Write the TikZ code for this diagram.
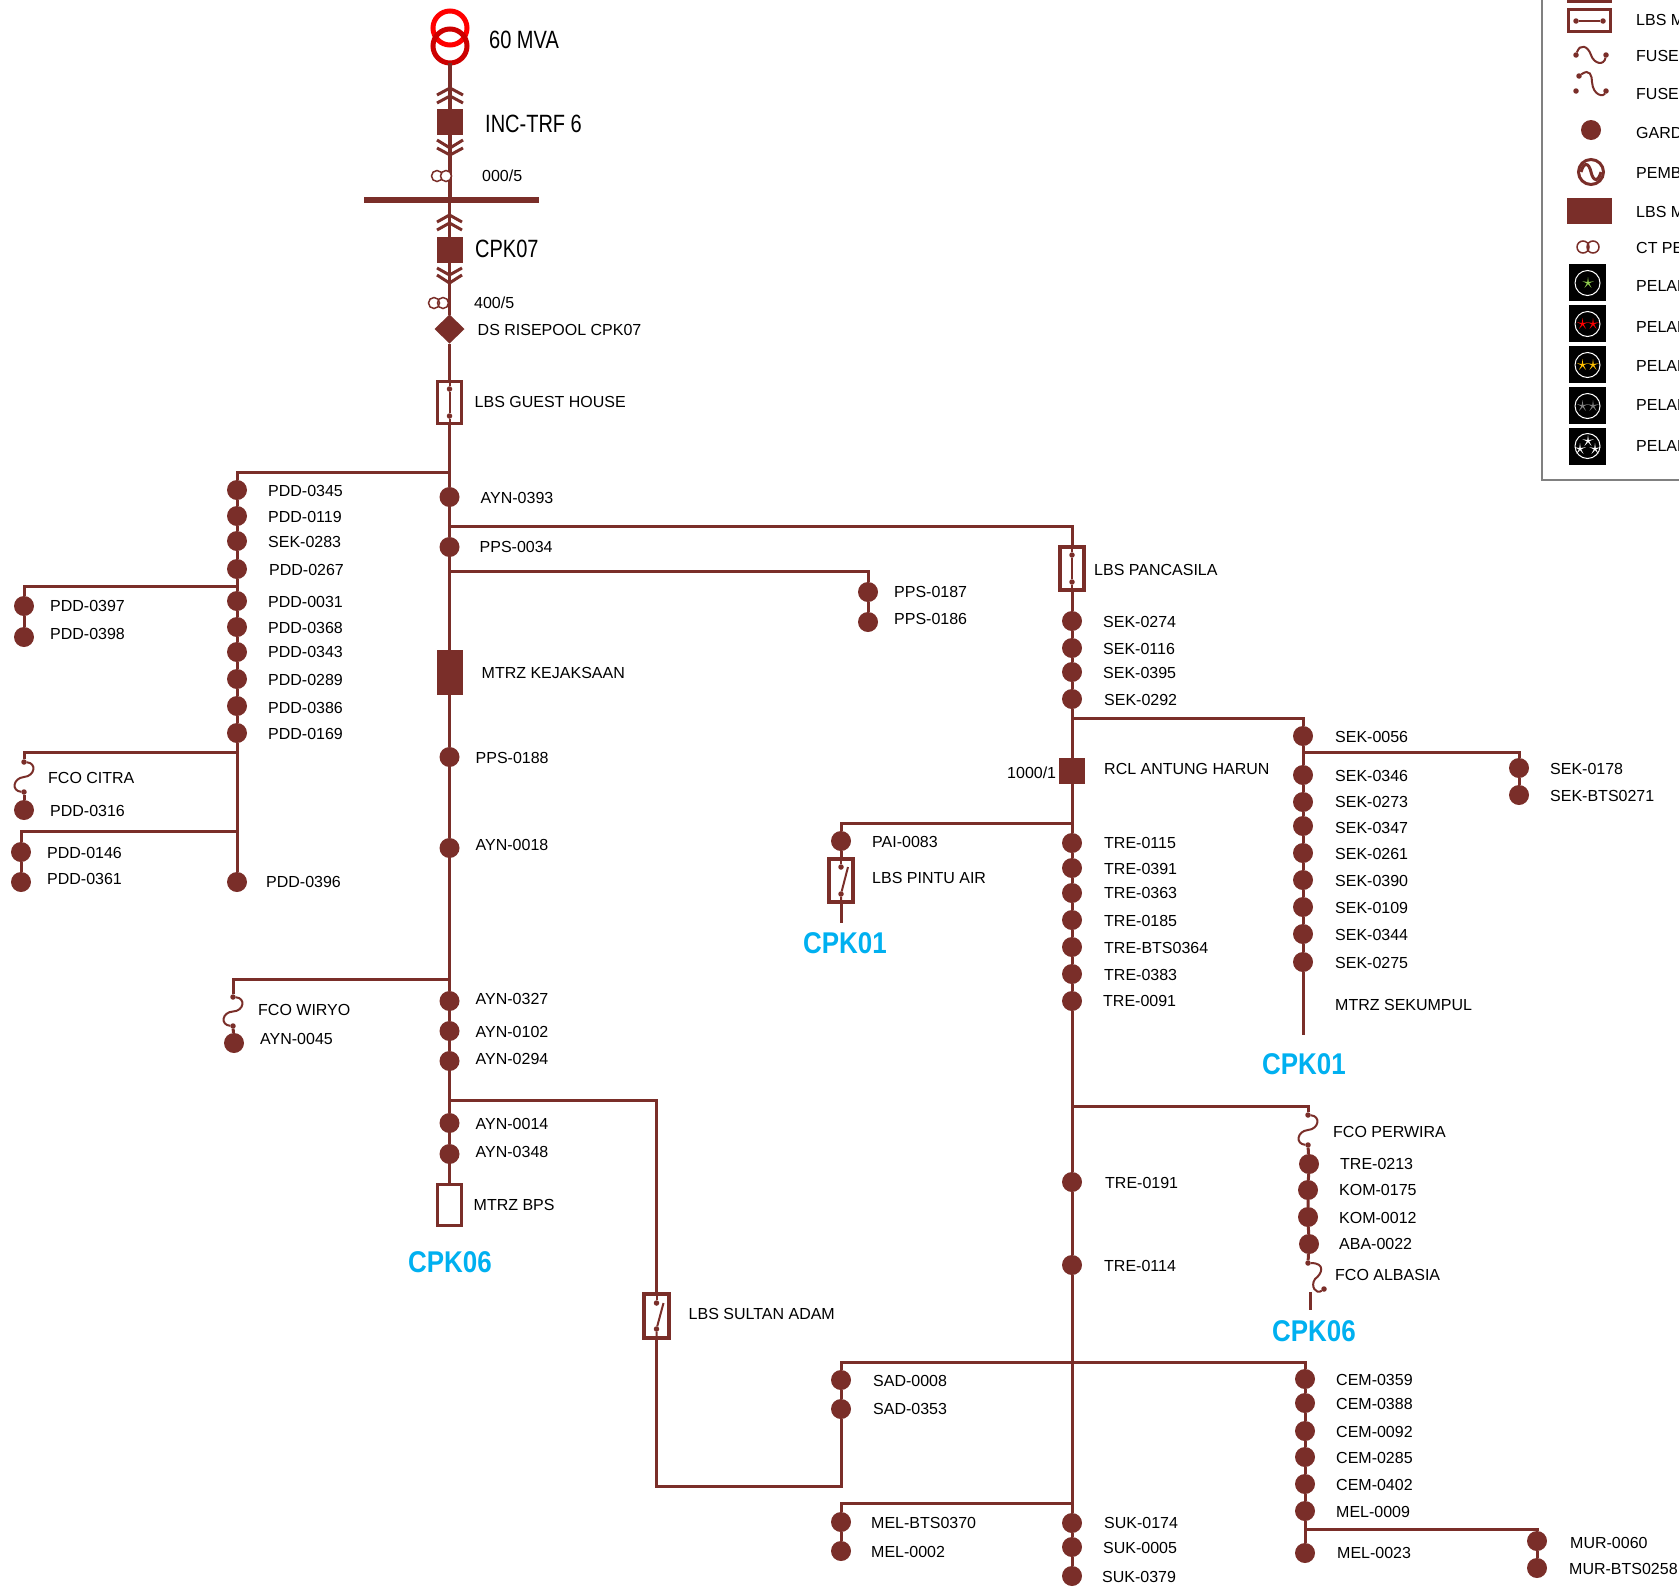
\documentclass[tikz,border=0pt]{standalone}
\usepackage{fontspec}
\setmainfont{Liberation Sans}
\newfontfamily\narrowf[FakeStretch=0.8]{Liberation Sans}
\newfontfamily\cpkf[FakeStretch=0.865]{Liberation Sans}
\usetikzlibrary{calc,shapes.geometric}
\definecolor{brn}{HTML}{7A2E29}
\definecolor{cpkblue}{HTML}{00B0F0}
\definecolor{lggreen}{HTML}{92D050}
\definecolor{lgorange}{HTML}{FFC000}
\tikzset{
 feeder/.style={draw=brn,line width=3pt},
 slim/.style={draw=brn,line width=2pt},
 chevron/.style={draw=brn,line width=3pt},
 gardu/.style={circle,fill=brn,minimum size=20pt,inner sep=0pt,outer sep=0pt},
 tip/.style={circle,fill=brn,minimum size=5.5pt,inner sep=0pt,outer sep=0pt},
 solidbox/.style={rectangle,fill=brn,inner sep=0pt,outer sep=0pt},
 lbsbox/.style={rectangle,draw=brn,line width=3.2pt,inner sep=0pt,outer sep=0pt,minimum width=24pt,minimum height=42pt},
 ctring/.style={circle,draw=brn,line width=1.5pt,inner sep=0pt,outer sep=0pt,minimum size=11pt},
 lbl/.style={anchor=west,inner sep=0pt,yshift=-1pt,text=black,font=\fontsize{16}{16}\selectfont},
 biglbl/.style={anchor=west,inner sep=0pt,yshift=-1pt,text=black,font=\narrowf\fontsize{25}{25}\selectfont},
 cpklbl/.style={inner sep=0pt,text=cpkblue,font=\cpkf\bfseries\fontsize{30}{30}\selectfont},
 blackbox/.style={rectangle,fill=black,inner sep=0pt,minimum size=37pt},
 ringw/.style={circle,draw=white,line width=1pt,inner sep=0pt,minimum size=25pt},
 starmark/.style={star,star points=5,star point ratio=5,fill=#1,inner sep=0pt,minimum size=12pt}
}
\newcommand{\fcocurve}[2]{\draw[slim] (#1) .. controls ($(#1)+(13,1)$) and ($(#1)+(11,14)$) .. ($(#1)!.5!(#2)$) .. controls ($(#2)+(-11,-14)$) and ($(#2)+(-13,-1)$) .. (#2);}

\begin{document}
\begin{tikzpicture}[x=1pt,y=-1pt]
\useasboundingbox (0,0) rectangle (1679,1588);
\clip (0,0) rectangle (1679,1588);
%Nodes
\path
 (450,28) node[circle,draw=red,line width=5pt,minimum size=34pt,inner sep=0pt,outer sep=0pt] (trfa) {}
 (450,46) node[circle,draw=red!80!black,line width=5pt,minimum size=34pt,inner sep=0pt,outer sep=0pt] (trfb) {}
 (450,122) node[solidbox,minimum size=26pt] (inc) {}
 (451.5,200) node[solidbox,minimum width=175pt,minimum height=5.5pt] (bus) {}
 (449.5,250) node[solidbox,minimum size=26pt] (cpk) {}
 (449.5,329) node[diamond,fill=brn,inner sep=0pt,outer sep=0pt,minimum width=30pt,minimum height=29pt] (ds) {}
 (449.5,402.5) node[lbsbox] (lbsgh) {}
 (449.5,389) node[tip] (lbsgha) {}
 (449.5,416) node[tip] (lbsghb) {}
 (449.5,497) node[gardu] (ayn0393) {}
 (449.5,547) node[gardu] (pps0034) {}
 (449.5,672.5) node[solidbox,minimum width=26pt,minimum height=45pt] (mtrzkj) {}
 (449.5,757) node[gardu] (pps0188) {}
 (449.5,848) node[gardu] (ayn0018) {}
 (449.5,1001) node[gardu] (ayn0327) {}
 (449.5,1031) node[gardu] (ayn0102) {}
 (449.5,1061) node[gardu] (ayn0294) {}
 (449.5,1123) node[gardu] (ayn0014) {}
 (449.5,1154) node[gardu] (ayn0348) {}
 (449.5,1205) node[lbsbox,minimum height=41pt] (mtrzbps) {}
 (237,490) node[gardu] (pdd0345) {}
 (237,516) node[gardu] (pdd0119) {}
 (237,541) node[gardu] (sek0283) {}
 (237,569) node[gardu] (pdd0267) {}
 (237,601) node[gardu] (pdd0031) {}
 (237,627) node[gardu] (pdd0368) {}
 (237,652) node[gardu] (pdd0343) {}
 (237,679) node[gardu] (pdd0289) {}
 (237,706) node[gardu] (pdd0386) {}
 (237,733) node[gardu] (pdd0169) {}
 (237,882) node[gardu] (pdd0396) {}
 (24,606) node[gardu] (pdd0397) {}
 (24,637) node[gardu] (pdd0398) {}
 (24,762) node[tip] (fcia) {}
 (24,792) node[tip] (fcib) {}
 (24,810) node[gardu] (pdd0316) {}
 (21,852) node[gardu] (pdd0146) {}
 (21,882) node[gardu] (pdd0361) {}
 (233,997) node[tip] (fwya) {}
 (233,1026) node[tip] (fwyb) {}
 (234,1043) node[gardu] (ayn0045) {}
 (868,592) node[gardu] (pps0187) {}
 (868,622) node[gardu] (pps0186) {}
 (656.5,1316) node[lbsbox,minimum width=25pt,minimum height=44pt] (lbssa) {}
 (656.5,1303) node[tip] (lbssaa) {}
 (656.5,1329) node[tip] (lbssab) {}
 (841,1380) node[gardu] (sad0008) {}
 (841,1409) node[gardu] (sad0353) {}
 (841,1522) node[gardu] (melb0370) {}
 (841,1551) node[gardu] (mel0002) {}
 (1072,568.5) node[lbsbox,minimum height=43pt] (lbspc) {}
 (1072,555) node[tip] (lbspca) {}
 (1072,582) node[tip] (lbspcb) {}
 (1072,621) node[gardu] (sek0274) {}
 (1072,648) node[gardu] (sek0116) {}
 (1072,672) node[gardu] (sek0395) {}
 (1072,699) node[gardu] (sek0292) {}
 (1072,771) node[solidbox,minimum size=26pt] (rcl) {}
 (1072,843) node[gardu] (tre0115) {}
 (1072,868) node[gardu] (tre0391) {}
 (1072,893) node[gardu] (tre0363) {}
 (1072,920) node[gardu] (tre0185) {}
 (1072,947) node[gardu] (treb0364) {}
 (1072,974) node[gardu] (tre0383) {}
 (1072,1001) node[gardu] (tre0091) {}
 (1072,1182) node[gardu] (tre0191) {}
 (1072,1265) node[gardu] (tre0114) {}
 (1072,1523) node[gardu] (suk0174) {}
 (1072,1547) node[gardu] (suk0005) {}
 (1072,1576) node[gardu] (suk0379) {}
 (841,841) node[gardu] (pai0083) {}
 (841,880.5) node[lbsbox,minimum height=43pt] (lbspa) {}
 (841,867) node[tip] (lbspaa) {}
 (841,894) node[tip] (lbspab) {}
 (1303,736) node[gardu] (sek0056) {}
 (1303,775) node[gardu] (sek0346) {}
 (1303,802) node[gardu] (sek0273) {}
 (1303,826) node[gardu] (sek0347) {}
 (1303,853) node[gardu] (sek0261) {}
 (1303,880) node[gardu] (sek0390) {}
 (1303,907) node[gardu] (sek0109) {}
 (1303,934) node[gardu] (sek0344) {}
 (1303,962) node[gardu] (sek0275) {}
 (1519,768) node[gardu] (sek0178) {}
 (1519,795) node[gardu] (sekb0271) {}
 (1308,1115) node[tip] (fpwa) {}
 (1308,1145) node[tip] (fpwb) {}
 (1309,1164) node[gardu] (tre0213) {}
 (1308,1190) node[gardu] (kom0175) {}
 (1308,1217) node[gardu] (kom0012) {}
 (1309,1244) node[gardu] (aba0022) {}
 (1308,1263) node[tip] (fala) {}
 (1324,1289) node[tip] (falb) {}
 (1305,1379) node[gardu] (cem0359) {}
 (1305,1403) node[gardu] (cem0388) {}
 (1305,1431) node[gardu] (cem0092) {}
 (1305,1457) node[gardu] (cem0285) {}
 (1305,1484) node[gardu] (cem0402) {}
 (1305,1511) node[gardu] (mel0009) {}
 (1305,1553) node[gardu] (mel0023) {}
 (1537,1541) node[gardu] (mur0060) {}
 (1537,1568) node[gardu] (murb0258) {}
 ;
%Junctions
\coordinate (jbus) at (450,200);
\coordinate (jbusb) at (449.5,200);
\coordinate (jleft) at (449.5,472);
\coordinate (jpanc) at (449.5,526);
\coordinate (jpps) at (449.5,571);
\coordinate (jwiryo) at (449.5,979);
\coordinate (jsultan) at (449.5,1100);
\coordinate (jpdda) at (237,586);
\coordinate (jpddb) at (237,752);
\coordinate (jpddc) at (237,831);
\coordinate (jsaa) at (656.5,1486);
\coordinate (jsab) at (841,1486);
\coordinate (jsac) at (841,1362);
\coordinate (jsad) at (1072,1362);
\coordinate (jsae) at (1305,1362);
\coordinate (jsek) at (1072,718);
\coordinate (jseka) at (1303,752);
\coordinate (jsekend) at (1303,1035);
\coordinate (jpai) at (1072,823);
\coordinate (jpaiend) at (841,923);
\coordinate (jperw) at (1072,1106);
\coordinate (jmel) at (1072,1503);
\coordinate (jmur) at (1305,1529);
\coordinate (jcuta) at (1310,1292);
\coordinate (jcutb) at (1310,1310);
%Edges
\draw[feeder,line width=4.5pt] (trfb) -- (inc);
\draw[feeder,line width=4pt] (inc) -- (jbus);
\draw[feeder] (jbusb) -- (cpk);
\draw[feeder] (cpk) -- (ds) -- (lbsgh) -- (ayn0393) -- (pps0034) -- (mtrzkj) -- (pps0188) -- (ayn0018) -- (ayn0327) -- (ayn0102) -- (ayn0294) -- (ayn0014) -- (ayn0348) -- (mtrzbps);
\draw[feeder] (jleft) -| (pdd0345);
\draw[feeder] (pdd0345) -- (pdd0119) -- (sek0283) -- (pdd0267) -- (pdd0031) -- (pdd0368) -- (pdd0343) -- (pdd0289) -- (pdd0386) -- (pdd0169) -- (pdd0396);
\draw[feeder] (jpdda) -| (pdd0397);
\draw[feeder] (pdd0397) -- (pdd0398);
\draw[feeder] (jpddb) -| (fcia);
\draw[feeder] (fcib) -- (pdd0316);
\draw[feeder] (jpddc) -| (pdd0146);
\draw[feeder] (pdd0146) -- (pdd0361);
\draw[feeder] (jwiryo) -| (fwya);
\draw[feeder] (fwyb) -- (ayn0045);
\draw[feeder] (jpanc) -| (lbspc);
\draw[feeder] (jpps) -| (pps0187);
\draw[feeder] (pps0187) -- (pps0186);
\draw[feeder] (jsultan) -| (lbssa);
\draw[feeder] (lbssa) -- (jsaa) -- (jsab) -- (sad0353) -- (sad0008) -- (jsac) -- (jsad) -- (jsae) -- (cem0359);
\draw[feeder] (jsad) -- (jmel);
\draw[feeder] (jmel) -| (melb0370);
\draw[feeder] (melb0370) -- (mel0002);
\draw[feeder] (lbspc) -- (sek0274) -- (sek0116) -- (sek0395) -- (sek0292) -- (rcl) -- (tre0115) -- (tre0391) -- (tre0363) -- (tre0185) -- (treb0364) -- (tre0383) -- (tre0091) -- (tre0191) -- (tre0114) -- (suk0174) -- (suk0005) -- (suk0379);
\draw[feeder] (jsek) -| (sek0056);
\draw[feeder] (sek0056) -- (sek0346) -- (sek0273) -- (sek0347) -- (sek0261) -- (sek0390) -- (sek0109) -- (sek0344) -- (sek0275) -- (jsekend);
\draw[feeder] (jseka) -| (sek0178);
\draw[feeder] (sek0178) -- (sekb0271);
\draw[feeder] (jpai) -| (pai0083);
\draw[feeder] (pai0083) -- (lbspa) -- (jpaiend);
\draw[feeder] (jperw) -| (fpwa);
\draw[feeder] (fpwb) -- (tre0213) -- (kom0175) -- (kom0012) -- (aba0022) -- (fala);
\draw[feeder] (jcuta) -- (jcutb);
\draw[feeder] (cem0359) -- (cem0388) -- (cem0092) -- (cem0285) -- (cem0402) -- (mel0009) -- (mel0023);
\draw[feeder] (jmur) -| (mur0060);
\draw[feeder] (mur0060) -- (murb0258);
% Fuses and switch blades
\fcocurve{fcia}{fcib}
\fcocurve{fwya}{fwyb}
\fcocurve{fpwa}{fpwb}
\draw[slim] (fala) .. controls (1326,1263) and (1322,1274) .. (1315,1279) .. controls (1310,1286) and (1316,1295) .. (falb);
\draw[slim] (lbsgh.north) -- (lbsgha) -- (lbsghb) -- (lbsgh.south);
\draw[slim] (lbspc.north) -- (lbspca) -- (lbspcb) -- (lbspc.south);
\draw[slim] (lbspa.north) -- (lbspaa);
\draw[slim] (lbspa.south) -- (lbspab) -- ($(lbspab)+(7,-27)$);
\draw[slim] (lbssa.north) -- (lbssaa);
\draw[slim] (lbssa.south) -- (lbssab) -- ($(lbssab)+(7,-26)$);
% Chevrons and CT rings on the incoming bay
\draw[chevron] (437,95) -- (450,88) -- (463,95);
\draw[chevron] (437,103) -- (450,96) -- (463,103);
\draw[chevron] (437,140) -- (450,148) -- (463,140);
\draw[chevron] (437,148) -- (450,155) -- (463,148);
\draw[chevron] (437,222) -- (449.5,215) -- (462,222);
\draw[chevron] (437,230) -- (449.5,223) -- (462,230);
\draw[chevron] (437,268) -- (449.5,275) -- (462,268);
\draw[chevron] (437,275) -- (449.5,283) -- (462,275);
\node[ctring] (cta) at (437,176) {};
\node[ctring,fill=white] (ctb) at (446,176) {};
\node[ctring] (ctc) at (434,303) {};
\node[ctring] (ctd) at (443,303) {};

% Adding labels near nodes
\node[biglbl] (ttrf) at (489,39) {60 MVA};
\node[biglbl] (tinc) at (485,123) {INC-TRF 6};
\node[lbl] (tct) at (482,175) {000/5};
\node[biglbl] (tcpk) at (475,248) {CPK07};
\node[lbl] (tctb) at (474,302) {400/5};
\node[lbl] (tds) at ($(ds)+(28,0)$) {DS RISEPOOL CPK07};
\node[lbl] (tlbsgh) at ($(lbsgh)+(25,-2)$) {LBS GUEST HOUSE};
\node[lbl] (tayn0393) at ($(ayn0393)+(31,0)$) {AYN-0393};
\node[lbl] (tpps0034) at ($(pps0034)+(30,-1)$) {PPS-0034};
\node[lbl] (tmtrzkj) at ($(mtrzkj)+(32,-1)$) {MTRZ KEJAKSAAN};
\node[lbl] (tpps0188) at ($(pps0188)+(26,0)$) {PPS-0188};
\node[lbl] (tayn0018) at ($(ayn0018)+(26,-4)$) {AYN-0018};
\node[lbl] (tayn0327) at ($(ayn0327)+(26,-3)$) {AYN-0327};
\node[lbl] (tayn0102) at ($(ayn0102)+(26,0)$) {AYN-0102};
\node[lbl] (tayn0294) at ($(ayn0294)+(26,-3)$) {AYN-0294};
\node[lbl] (tayn0014) at ($(ayn0014)+(26,0)$) {AYN-0014};
\node[lbl] (tayn0348) at ($(ayn0348)+(26,-3)$) {AYN-0348};
\node[lbl] (tmtrzbps) at ($(mtrzbps)+(24,-1)$) {MTRZ BPS};
\node[cpklbl] (tcpka) at (450,1262) {CPK06};
\node[lbl] (tpdd0345) at ($(pdd0345)+(31,0)$) {PDD-0345};
\node[lbl] (tpdd0119) at ($(pdd0119)+(31,0)$) {PDD-0119};
\node[lbl] (tsek0283) at ($(sek0283)+(31,0)$) {SEK-0283};
\node[lbl] (tpdd0267) at ($(pdd0267)+(32,0)$) {PDD-0267};
\node[lbl] (tpdd0031) at ($(pdd0031)+(31,0)$) {PDD-0031};
\node[lbl] (tpdd0368) at ($(pdd0368)+(31,0)$) {PDD-0368};
\node[lbl] (tpdd0343) at ($(pdd0343)+(31,-1)$) {PDD-0343};
\node[lbl] (tpdd0289) at ($(pdd0289)+(31,0)$) {PDD-0289};
\node[lbl] (tpdd0386) at ($(pdd0386)+(31,1)$) {PDD-0386};
\node[lbl] (tpdd0169) at ($(pdd0169)+(31,0)$) {PDD-0169};
\node[lbl] (tpdd0396) at ($(pdd0396)+(29,-1)$) {PDD-0396};
\node[lbl] (tpdd0397) at ($(pdd0397)+(26,-1)$) {PDD-0397};
\node[lbl] (tpdd0398) at ($(pdd0398)+(26,-4)$) {PDD-0398};
\node[lbl] (tfci) at (48,777) {FCO CITRA};
\node[lbl] (tpdd0316) at ($(pdd0316)+(26,0)$) {PDD-0316};
\node[lbl] (tpdd0146) at ($(pdd0146)+(26,0)$) {PDD-0146};
\node[lbl] (tpdd0361) at ($(pdd0361)+(26,-4)$) {PDD-0361};
\node[lbl] (tfwy) at (258,1009) {FCO WIRYO};
\node[lbl] (tayn0045) at ($(ayn0045)+(26,-5)$) {AYN-0045};
\node[lbl] (tpps0187) at ($(pps0187)+(26,-1)$) {PPS-0187};
\node[lbl] (tpps0186) at ($(pps0186)+(26,-4)$) {PPS-0186};
\node[lbl] (tlbssa) at ($(lbssa)+(32,-3)$) {LBS SULTAN ADAM};
\node[lbl] (tsad0008) at ($(sad0008)+(32,0)$) {SAD-0008};
\node[lbl] (tsad0353) at ($(sad0353)+(32,-1)$) {SAD-0353};
\node[lbl] (tmelb0370) at ($(melb0370)+(30,0)$) {MEL-BTS0370};
\node[lbl] (tmel0002) at ($(mel0002)+(30,0)$) {MEL-0002};
\node[lbl] (tlbspc) at ($(lbspc)+(22,0)$) {LBS PANCASILA};
\node[lbl] (tsek0274) at ($(sek0274)+(31,0)$) {SEK-0274};
\node[lbl] (tsek0116) at ($(sek0116)+(31,0)$) {SEK-0116};
\node[lbl] (tsek0395) at ($(sek0395)+(31,0)$) {SEK-0395};
\node[lbl] (tsek0292) at ($(sek0292)+(32,0)$) {SEK-0292};
\node[lbl] (trcl) at ($(rcl)+(32,-3)$) {RCL ANTUNG HARUN};
\node[lbl] (tratio) at (1007,772) {1000/1};
\node[lbl] (ttre0115) at ($(tre0115)+(32,-1)$) {TRE-0115};
\node[lbl] (ttre0391) at ($(tre0391)+(32,0)$) {TRE-0391};
\node[lbl] (ttre0363) at ($(tre0363)+(32,-1)$) {TRE-0363};
\node[lbl] (ttre0185) at ($(tre0185)+(32,0)$) {TRE-0185};
\node[lbl] (ttreb0364) at ($(treb0364)+(32,0)$) {TRE-BTS0364};
\node[lbl] (ttre0383) at ($(tre0383)+(32,0)$) {TRE-0383};
\node[lbl] (ttre0091) at ($(tre0091)+(31,-1)$) {TRE-0091};
\node[lbl] (ttre0191) at ($(tre0191)+(33,0)$) {TRE-0191};
\node[lbl] (ttre0114) at ($(tre0114)+(32,0)$) {TRE-0114};
\node[lbl] (tsuk0174) at ($(suk0174)+(32,-1)$) {SUK-0174};
\node[lbl] (tsuk0005) at ($(suk0005)+(31,0)$) {SUK-0005};
\node[lbl] (tsuk0379) at ($(suk0379)+(30,0)$) {SUK-0379};
\node[lbl] (tpai0083) at ($(pai0083)+(31,0)$) {PAI-0083};
\node[lbl] (tlbspa) at (872,877) {LBS PINTU AIR};
\node[cpklbl] (tcpkb) at (845,943) {CPK01};
\node[lbl] (tsek0056) at ($(sek0056)+(32,0)$) {SEK-0056};
\node[lbl] (tsek0346) at ($(sek0346)+(32,0)$) {SEK-0346};
\node[lbl] (tsek0273) at ($(sek0273)+(32,-1)$) {SEK-0273};
\node[lbl] (tsek0347) at ($(sek0347)+(32,1)$) {SEK-0347};
\node[lbl] (tsek0261) at ($(sek0261)+(32,0)$) {SEK-0261};
\node[lbl] (tsek0390) at ($(sek0390)+(32,0)$) {SEK-0390};
\node[lbl] (tsek0109) at ($(sek0109)+(32,0)$) {SEK-0109};
\node[lbl] (tsek0344) at ($(sek0344)+(32,0)$) {SEK-0344};
\node[lbl] (tsek0275) at ($(sek0275)+(32,0)$) {SEK-0275};
\node[lbl] (tmtrzsk) at (1335,1004) {MTRZ SEKUMPUL};
\node[cpklbl] (tcpkc) at (1304,1064) {CPK01};
\node[lbl] (tsek0178) at ($(sek0178)+(31,0)$) {SEK-0178};
\node[lbl] (tsekb0271) at ($(sekb0271)+(31,0)$) {SEK-BTS0271};
\node[lbl] (tfpw) at (1333,1131) {FCO PERWIRA};
\node[lbl] (ttre0213) at ($(tre0213)+(31,-1)$) {TRE-0213};
\node[lbl] (tkom0175) at ($(kom0175)+(31,-1)$) {KOM-0175};
\node[lbl] (tkom0012) at ($(kom0012)+(31,0)$) {KOM-0012};
\node[lbl] (taba0022) at ($(aba0022)+(30,-1)$) {ABA-0022};
\node[lbl] (tfal) at (1335,1274) {FCO ALBASIA};
\node[cpklbl] (tcpkd) at (1314,1331) {CPK06};
\node[lbl] (tcem0359) at ($(cem0359)+(31,0)$) {CEM-0359};
\node[lbl] (tcem0388) at ($(cem0388)+(31,0)$) {CEM-0388};
\node[lbl] (tcem0092) at ($(cem0092)+(31,0)$) {CEM-0092};
\node[lbl] (tcem0285) at ($(cem0285)+(31,0)$) {CEM-0285};
\node[lbl] (tcem0402) at ($(cem0402)+(31,0)$) {CEM-0402};
\node[lbl] (tmel0009) at ($(mel0009)+(31,0)$) {MEL-0009};
\node[lbl] (tmel0023) at ($(mel0023)+(32,-1)$) {MEL-0023};
\node[lbl] (tmur0060) at ($(mur0060)+(33,1)$) {MUR-0060};
\node[lbl] (tmurb0258) at ($(murb0258)+(32,0)$) {MUR-BTS0258};

%Legend
\coordinate (lgtop) at (1542,0);
\coordinate (lgcorner) at (1542,480);
\coordinate (lgend) at (1679,480);
\draw[draw=gray,line width=1.5pt] (lgtop) -- (lgcorner) -- (lgend);
\path
 (1589.5,0) node[solidbox,minimum width=45pt,minimum height=6pt] (lgbox) {}
 (1589.5,20.5) node[lbsbox,minimum width=42pt,minimum height=22pt] (lglbs) {}
 (1576,21) node[tip] (lglbsa) {}
 (1603,21) node[tip] (lglbsb) {}
 (1576,55) node[tip] (lgfa) {}
 (1606,55) node[tip] (lgfb) {}
 (1579,76) node[tip] (lgfc) {}
 (1606,91) node[tip] (lgfd) {}
 (1576,91) node[tip] (lgfe) {}
 (1591,130) node[gardu] (lggardu) {}
 (1591,172) node[circle,draw=brn,line width=3pt,inner sep=0pt,minimum size=25pt] (lgpemb) {}
 (1589.5,211) node[solidbox,minimum width=45pt,minimum height=26pt] (lgsolid) {}
 (1583,247) node[ctring,minimum size=12pt] (lgcta) {}
 (1593,247) node[ctring,minimum size=12pt] (lgctb) {}
 (1587.5,282.5) node[blackbox] (lgka) {}
 (1587.5,323.5) node[blackbox] (lgkb) {}
 (1587.5,364.5) node[blackbox] (lgkc) {}
 (1587.5,405.5) node[blackbox] (lgkd) {}
 (1587.5,446.5) node[blackbox] (lgke) {}
 (1587.5,283) node[ringw] (lgra) {}
 (1587.5,324) node[ringw] (lgrb) {}
 (1587.5,365) node[ringw] (lgrc) {}
 (1587.5,406) node[ringw] (lgrd) {}
 (1587.5,446) node[ringw] (lgre) {}
 (1588,283) node[starmark=lggreen] (lgsa) {}
 (1582.5,324) node[starmark=red] (lgsb) {}
 (1593,324) node[starmark=red] (lgsc) {}
 (1582.5,365) node[starmark=lgorange] (lgsd) {}
 (1593,365) node[starmark=lgorange] (lgse) {}
 (1582.5,406) node[starmark=gray] (lgsf) {}
 (1593,406) node[starmark=gray] (lgsg) {}
 (1588,441) node[starmark=white] (lgsh) {}
 (1580,449) node[starmark=white] (lgsi) {}
 (1595,449) node[starmark=white] (lgsj) {}
 ;
\draw[feeder,line width=1.5pt] (lglbsa) -- (lglbsb);
\draw[slim] (lgfa) .. controls (1580,43) and (1588,46) .. (1591,55) .. controls (1594,64) and (1604,66) .. (lgfb);
\draw[slim] (lgfc) .. controls (1590,68) and (1592,76) .. (1592,82) .. controls (1593,96) and (1604,97) .. (lgfd);
\draw[brn,line width=3pt] (1581,172) .. controls (1584,161) and (1589,163) .. (1591,172) .. controls (1593,181) and (1598,183) .. (1601,172);
\node[lbl] (tlga) at (1636,19) {LBS M};
\node[lbl] (tlgb) at (1636,55) {FUSE};
\node[lbl] (tlgc) at (1636,93) {FUSE};
\node[lbl] (tlgd) at (1636,132) {GARD};
\node[lbl] (tlge) at (1636,172) {PEMB};
\node[lbl] (tlgf) at (1636,211) {LBS M};
\node[lbl] (tlgg) at (1636,247) {CT PE};
\node[lbl] (tlgh) at (1636,285) {PELAN};
\node[lbl] (tlgi) at (1636,326) {PELAN};
\node[lbl] (tlgj) at (1636,365) {PELAN};
\node[lbl] (tlgk) at (1636,404) {PELAN};
\node[lbl] (tlgl) at (1636,445) {PELAN};
\end{tikzpicture}
\end{document}
